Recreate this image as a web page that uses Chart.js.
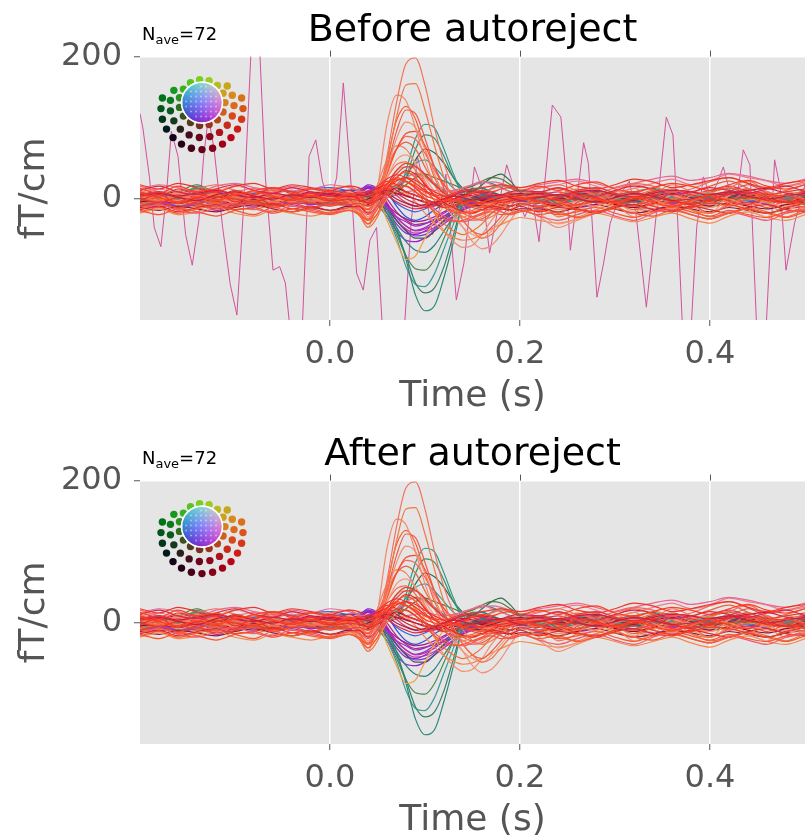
<!DOCTYPE html>
<html><head><meta charset="utf-8">
<script src="https://cdn.jsdelivr.net/npm/chart.js@4.4.1/dist/chart.umd.min.js"></script>
<style>
html,body{margin:0;padding:0;background:#fff;overflow:hidden;width:805px;height:840px;}
.wrap{position:absolute;left:0;width:805px;height:420px;}
canvas{display:block;}
</style></head><body>
<div class="wrap" style="top:0px"><canvas id="c1" width="805" height="420" style="width:805px;height:420px"></canvas></div>
<div class="wrap" style="top:424px"><canvas id="c2" width="805" height="420" style="width:805px;height:420px"></canvas></div>
<script>
// ---------------- DATA ----------------
const panelTitles = ['Before autoreject', 'After autoreject'];
const nAve = 72;
const xTickValues = [0, 0.2, 0.4];
const yTickValues = [0, 200];

// time axis (s) shared by the good channels
const times = [-0.2,-0.18,-0.16,-0.14,-0.12,-0.1,-0.08,-0.06,-0.04,-0.02,0,0.02,
  0.03,0.04,0.05,0.06,0.07,0.08,0.09,0.1,0.11,0.12,0.13,0.14,0.15,0.16,0.17,0.18,0.19,0.2,
  0.22,0.24,0.26,0.28,0.3,0.32,0.34,0.36,0.38,0.4,0.42,0.44,0.46,0.48,0.5];

// gradiometer channels (fT/cm)
const ch01 = [5,-3,2,6,-2,3,-4,2,5,-3,0,4, -10,-30,-5,60,135,190,198,160,100,50,15,-10,-25,-30,-25,-15,-5,0, 5,-8,10,15,-5,-10,5,20,10,-5,15,25,10,-5,8];
const ch02 = [-8,-2,4,-3,5,-2,3,-6,-2,4,-5,2, -15,-35,-5,50,115,160,162,125,75,30,-5,-30,-45,-55,-50,-35,-20,-8, -5,-25,-15,5,-10,-20,10,5,-15,-20,-5,10,-5,-20,-10];
const ch03 = [10,4,-2,8,2,-5,6,0,-4,6,2,-3, -20,-40,15,105,146,138,100,55,20,0,-15,-25,-30,-25,-15,-5,0,5, 10,-5,-15,-10,5,15,0,-10,5,10,-5,-15,0,10,5];
const ch04 = [-3,6,-5,2,-8,4,-2,7,-3,-6,3,-4, -8,-20,5,45,95,125,120,85,45,15,-10,-30,-45,-50,-40,-25,-10,0, -10,-20,-5,8,-3,-15,-5,10,-5,-20,-8,5,10,-5,-12];
const ch05 = [12,5,8,-2,3,10,5,-3,6,2,-4,3, -5,-25,0,40,85,108,100,70,35,5,-20,-40,-60,-70,-65,-50,-30,-15, -25,-40,-30,-20,-10,-25,-15,0,-10,-20,5,15,0,-15,-5];
const ch06 = [-6,-12,-4,-8,0,-10,-5,-12,-6,-2,-8,-5, -10,-15,5,35,70,92,95,75,45,20,5,-5,-10,-12,-8,-3,0,2, -5,-12,-8,0,-6,-10,-2,-8,-12,-4,-10,-5,-12,-3,-8];
const ch07 = [3,-4,6,0,-5,2,-6,4,0,-3,6,2, 0,-10,15,45,70,80,70,45,20,0,-15,-25,-30,-28,-20,-12,-5,0, 8,15,5,-5,10,20,12,-3,8,18,25,15,5,12,20];
const ch08 = [15,8,12,5,10,18,12,4,8,14,6,10, 5,-15,5,30,55,62,50,30,10,-10,-25,-40,-50,-55,-45,-30,-15,-5, -20,-35,-28,-15,-5,-18,-10,5,-5,-12,0,-15,-25,-10,-20];
const ch09 = [-10,-4,2,-6,-2,5,-8,-4,2,-5,-10,-3, 0,5,10,20,35,45,45,35,20,10,0,-8,-12,-15,-10,-5,-2,0, 5,0,-8,-3,5,10,0,-10,-5,5,10,20,8,0,5];
const ch10 = [-2,4,-6,3,6,-3,2,-5,3,0,-4,5, -5,-18,20,55,75,70,50,25,5,-10,-20,-25,-20,-12,-5,0,3,5, 0,5,-5,-10,0,5,-5,-12,-3,5,0,-8,-3,5,0];
const ch11 = [6,0,-5,4,-3,8,2,-4,6,-2,5,0, -12,-28,0,55,110,130,112,70,30,5,-10,-20,-25,-22,-15,-8,-3,0, 5,-3,-10,0,8,3,-8,-2,10,5,-5,0,8,-3,-8];
const ch12 = [2,5,0,18,4,-3,2,5,-2,3,0,5, 5,8,10,5,5,40,85,105,100,70,35,5,-10,-10,-3,5,8,5, 0,-5,5,10,0,-8,5,10,-3,-8,0,5,-5,0,5];
const ch13 = [-2,3,8,15,5,0,-3,4,0,-2,3,0, 0,-5,0,5,10,30,70,90,85,60,30,10,0,5,15,20,15,10, 10,5,0,-5,5,10,15,5,-5,0,10,5,-5,5,10];
const ch14 = [0,-4,5,12,3,-2,0,-4,3,0,-3,2, -3,0,5,8,15,30,55,70,65,50,30,15,10,20,30,35,25,10, 0,-5,5,0,-8,0,10,5,0,-5,5,0,-3,5,0];
const ch15 = [3,0,-3,10,6,0,5,2,-2,0,4,2, 0,2,5,10,20,35,50,55,45,30,15,5,0,-5,-3,0,5,3, -3,5,10,3,-5,0,5,-5,0,8,3,-2,5,0,-5];
const ch16 = [-3,2,-5,5,-2,0,3,-4,0,2,-2,0, 0,-5,-5,-15,-40,-85,-135,-157,-150,-110,-60,-5,15,15,10,5,2,0, -3,5,0,-5,3,5,-2,0,5,-3,0,3,-2,0,3];
const ch17 = [2,-3,0,8,2,-2,0,3,-3,0,2,-2, -2,-3,-8,-20,-45,-80,-118,-132,-125,-95,-50,-5,12,15,10,5,0,-3, 0,-3,5,2,-3,0,3,-3,0,5,-2,0,3,-3,0];
const ch18 = [-4,0,3,6,-2,2,-3,0,3,-2,0,3, 0,-5,-10,-25,-55,-95,-120,-123,-105,-70,-35,0,15,10,5,0,-3,0, 3,0,-4,2,5,-2,0,3,-3,0,4,0,-3,2,0];
const ch19 = [0,3,-2,10,0,-3,2,0,-2,3,0,-3, -3,-5,-10,-25,-50,-80,-98,-100,-85,-55,-25,0,12,8,3,0,-2,0, 2,-3,0,3,-2,0,3,0,-3,2,0,-2,3,0,-2];
const ch20 = [3,0,-3,4,2,-4,0,2,0,-3,2,0, 0,-3,-8,-20,-40,-60,-72,-75,-65,-45,-25,-10,0,5,3,0,-2,0, 0,3,0,-3,0,2,-2,0,3,0,-2,0,2,-2,0];
const ch21 = [-2,2,0,3,-3,0,2,-2,0,3,-2,0, -3,-5,-8,-15,-30,-45,-55,-55,-45,-30,-15,-5,0,3,5,3,0,-2, -3,0,3,0,-2,-4,0,3,0,-2,0,3,0,-2,0];
const ch22 = [-8,-5,-10,-6,-3,-8,-5,-2,-6,-4,-8,-5, 5,15,10,-15,-35,-48,-50,-45,-35,-25,-15,-8,-5,-3,0,-3,-5,-3, -2,0,3,-3,-5,0,3,-2,-5,0,3,0,-3,-2,0];
const ch23 = [-5,0,-3,2,-6,-2,3,-4,0,-3,2,-2, 3,12,15,-5,-25,-38,-45,-42,-35,-25,-15,-10,-5,-2,0,2,0,-2, 0,3,-2,0,3,-3,0,5,2,-2,0,3,5,0,-2];
const ch24 = [-10,-6,-3,-8,-10,-4,-6,-9,-5,-7,-3,-6, 8,18,12,-10,-25,-32,-38,-35,-28,-20,-12,-8,-5,-5,-3,-2,0,-3, -5,-3,0,-5,-2,0,-4,-6,-2,0,-3,-5,-2,0,-4];
const ch25 = [0,4,-2,0,5,2,-3,2,4,0,-2,3, 5,10,8,-8,-20,-28,-32,-30,-25,-18,-12,-5,-3,0,2,0,-3,-2, 2,5,0,-3,2,5,8,3,0,-2,3,6,2,-2,0];
const ch26 = [-3,-8,-5,-2,-6,-10,-4,-7,-3,-8,-5,-4, 5,18,5,-20,-45,-58,-60,-55,-45,-35,-25,-15,-8,-5,-3,-5,-3,0, -3,-6,-2,0,-5,-8,-3,0,-6,-4,0,-3,-6,-2,0];
const ch27 = [-8,-12,-6,-10,-4,-8,-5,0,5,8,10,12, 12,15,15,10,-10,-25,-30,-25,-15,-8,-3,0,2,5,3,0,-2,-3, -5,-2,0,-3,-6,-2,0,-4,-3,0,-2,-5,-3,0,-2];
const ch28 = [6,10,4,8,12,6,2,8,4,10,6,3, 5,8,15,20,12,5,0,-5,-8,-5,0,5,8,10,8,5,3,5, 8,5,10,12,6,3,8,12,10,5,8,12,15,8,5];
const ch29 = [-4,-2,-6,0,-3,-5,-1,-4,-2,-6,-3,-2, -3,0,5,10,15,10,5,0,-5,-8,-5,-3,0,-2,-5,-8,-10,-8, -6,-10,-8,-4,-8,-12,-6,-3,-8,-10,-6,-10,-14,-8,-5];
const ch30 = [0,-5,2,-3,4,0,-4,2,-2,3,-3,0, -2,-5,10,25,20,10,5,0,-5,-3,5,10,8,3,0,-5,-3,0, 3,-2,0,-5,-3,0,2,-3,-6,-2,0,3,-2,-5,-3];
const ch31 = [-12,-8,-14,-10,-6,-12,-15,-8,-10,-13,-8,-11, -20,-40,-25,10,25,30,20,0,-20,-35,-45,-50,-45,-35,-20,-10,-5,0, -10,-20,-25,-15,-8,-12,-18,-10,-15,-25,-20,-12,-18,-25,-15];
const ch32 = [10,14,8,12,6,10,15,8,12,6,10,8, 10,5,0,10,20,30,35,30,20,15,10,15,20,25,20,15,10,8, 15,20,25,18,10,15,22,28,20,25,35,30,25,18,22];
const ch33 = [-15,-10,-18,-12,-8,-15,-12,-6,-14,-10,-16,-12, -10,-20,-10,15,30,40,35,20,5,-5,-12,-18,-20,-15,-10,-12,-15,-10, -18,-12,-15,-20,-12,-8,-15,-18,-10,-15,-20,-12,-8,-15,-18];
const ch34 = [-5,0,-8,-3,2,-5,-2,-6,0,-4,-2,-6, -10,-5,0,-30,-60,-85,-80,-55,-30,-10,0,5,0,-5,-10,-8,-3,0, -5,-10,-3,0,-8,-12,-5,0,-8,-12,-5,0,-5,-10,-3];
const ch35 = [0,3,10,20,8,2,0,3,-2,0,2,0, 0,2,5,8,10,20,30,35,30,25,20,15,18,25,30,28,20,12, 5,0,5,10,8,3,-2,0,5,10,15,8,3,0,5];
const ch36 = [5,0,3,-2,4,0,-3,2,0,5,2,-2, -5,-15,-5,20,40,45,30,5,-20,-45,-60,-68,-65,-50,-30,-15,-5,0, -5,-15,-10,0,-5,-12,-8,5,0,-8,5,10,0,-8,-3];
const ch37 = [8,2,-4,3,-2,6,10,4,-2,5,0,6, 3,-2,8,20,30,25,15,5,0,-3,0,-5,-8,-5,0,3,5,2, -3,-8,5,0,-5,3,-5,-10,-2,5,-3,-8,3,5,-2];
const ch38 = [-5,3,8,2,-4,-8,0,5,-3,-6,5,0, 2,5,12,15,5,-5,-10,-12,-10,-5,0,3,5,8,6,3,0,-3, 5,10,3,-5,0,8,-3,-5,5,12,18,10,0,5,10];
const ch39 = [-10,-4,-12,-6,-14,-8,-3,-10,-6,-12,-4,-8, -6,-10,-2,10,20,18,10,0,-8,-12,-10,-6,-3,-8,-12,-15,-10,-6, -12,-6,-14,-18,-10,-4,-10,-16,-12,-6,-8,-14,-20,-12,-6];
const ch40 = [4,8,2,-2,6,10,4,0,6,2,8,4, 6,3,8,12,8,0,-6,-10,-6,0,4,2,-2,0,4,6,2,-2, 2,6,0,-4,2,8,4,-2,0,6,10,4,0,4,8];
const ch41 = [15,8,18,10,14,6,12,16,8,14,10,6, 8,4,12,22,28,25,18,10,4,0,-3,2,8,12,10,14,16,12, 18,12,20,24,14,10,16,22,18,12,20,26,18,14,20];
const ch42 = [-18,-12,-20,-14,-10,-16,-22,-12,-18,-14,-20,-16, -22,-35,-20,5,15,18,10,-5,-18,-28,-32,-30,-25,-20,-18,-22,-20,-16, -22,-18,-26,-20,-14,-20,-24,-16,-22,-28,-20,-14,-20,-26,-18];
const ch43 = [12,18,10,6,14,20,12,8,16,10,4,12, 8,10,14,6,-4,-10,-14,-12,-6,0,6,10,12,8,4,6,10,12, 10,16,8,4,12,18,14,6,10,16,12,8,14,18,10];
const ch44 = [-14,-8,-16,-20,-12,-6,-14,-18,-10,-16,-20,-12, -14,-22,-10,8,20,24,16,0,-14,-24,-30,-32,-28,-20,-14,-18,-22,-16, -24,-30,-22,-16,-24,-30,-20,-14,-22,-28,-18,-24,-30,-20,-16];
const ch45 = [4,-6,10,-2,8,-8,4,12,-4,6,-10,2, -4,-14,6,30,48,52,40,22,6,-6,-14,-18,-16,-10,-6,-2,2,4, -4,6,14,4,-6,2,12,6,-4,8,16,6,-4,4,12];
const ch46 = [8,2,12,6,0,10,4,-2,8,14,6,0, 4,6,10,8,0,-6,-10,-8,-4,0,4,6,4,0,-2,2,6,8, 4,0,6,10,4,-2,4,8,2,-4,2,6,0,-4,2];
const ch47 = [-12,-6,-14,-8,-16,-10,-4,-12,-8,-14,-6,-10, 0,8,6,-12,-30,-42,-48,-46,-40,-32,-24,-16,-10,-6,-4,-8,-10,-8, -10,-6,-12,-8,-4,-10,-14,-8,-4,-10,-6,-2,-8,-12,-6];
const ch48 = [6,10,4,8,12,6,2,8,12,6,10,8, 10,20,14,-6,-26,-38,-44,-40,-32,-24,-16,-8,-2,2,0,-2,2,4, 6,2,8,12,6,0,4,10,6,2,8,4,0,6,10];
const ch49 = [-6,-2,-8,-4,0,-6,-10,-4,0,2,6,8, 10,16,12,-8,-30,-44,-52,-50,-42,-30,-20,-12,-6,-2,0,-2,-4,-2, -4,0,4,-2,-6,-2,2,-4,-6,-2,2,0,-4,-2,2];
const ch50 = [2,-4,6,0,-6,4,-2,-8,2,6,0,-4, 2,10,16,0,-18,-30,-36,-34,-30,-26,-20,-14,-8,-4,-2,0,-2,-4, -2,4,0,-4,2,6,0,-6,-2,4,8,2,-4,0,4];
const ch51 = [20,14,22,16,10,18,22,14,20,16,12,18, 16,10,18,28,34,30,22,12,6,4,8,12,14,16,18,20,18,16, 22,26,18,14,20,28,24,16,20,26,30,22,16,22,26];
const ch52 = [-20,-14,-22,-18,-12,-20,-24,-16,-20,-24,-18,-14, -16,-28,-22,0,10,8,-4,-20,-34,-46,-54,-58,-56,-50,-42,-36,-30,-26, -30,-34,-28,-20,-26,-32,-26,-20,-28,-34,-24,-18,-26,-30,-22];
const ch53 = [18,10,6,14,20,12,4,10,16,8,14,18, 10,-4,10,40,70,88,84,64,40,20,8,2,4,10,14,18,16,12, 16,20,12,8,16,22,18,10,14,24,30,22,14,18,24];
const ch54 = [-2,6,-6,2,10,-4,4,-8,0,8,-2,4, 0,-6,4,16,26,30,26,18,10,4,0,-2,-4,-6,-4,-2,0,2, -4,2,8,2,-6,0,6,-2,-8,0,6,10,2,-4,0];
const ch55 = [14,20,16,10,18,22,16,12,18,14,20,16, 12,8,4,2,6,10,12,14,12,10,12,16,20,22,24,22,18,16, 20,24,28,22,16,22,28,32,26,30,36,32,26,22,28];
const ch56 = [-12,-16,-10,-14,-18,-12,-8,-14,-18,-12,-16,-10, -12,-8,-2,6,8,4,0,-4,-8,-10,-8,-6,-8,-10,-12,-14,-16,-14, -14,-18,-12,-8,-14,-20,-16,-10,-14,-18,-12,-16,-20,-14,-10];
const ch57 = [4,8,2,6,10,4,8,12,10,14,16,12, 14,16,14,6,-6,-14,-18,-14,-8,-4,0,2,4,6,4,2,0,2, 0,4,2,-2,0,4,2,-2,0,4,6,2,0,2,4];
const ch58 = [-6,-2,4,14,6,-2,-6,-2,2,-4,-6,-2, -4,-2,0,6,18,30,36,32,22,12,10,14,20,24,22,16,10,4, 2,-4,0,6,2,-4,0,4,-2,-6,0,4,-2,2,6];
const ch59 = [-16,-22,-14,-18,-24,-16,-12,-20,-14,-18,-22,-16, -20,-30,-14,12,30,38,30,14,-2,-12,-18,-20,-18,-16,-14,-18,-22,-18, -16,-22,-18,-12,-20,-26,-18,-12,-18,-24,-16,-22,-26,-18,-14];
const ch60 = [10,4,14,8,2,12,6,16,10,4,12,8, 6,-6,0,20,40,50,46,34,20,8,0,-6,-8,-4,0,4,8,6, 10,4,12,16,8,2,10,14,6,0,8,14,6,10,14];

const channelValues = [ch37,ch39,ch40,ch41,ch42,ch43,ch44,ch51,ch54,ch59,ch60,ch30,ch28,ch33,
  ch01,ch02,ch03,ch04,ch05,ch06,ch07,ch08,ch09,ch10,ch11,ch45,ch53,ch52,
  ch29,ch46,ch56,ch38,ch55,ch31,ch32,ch36,ch34,
  ch12,ch13,ch14,ch15,ch16,ch17,ch18,ch19,ch20,ch21,ch35,ch58,
  ch22,ch23,ch24,ch25,ch26,ch47,ch48,ch49,ch50,ch27,ch57];
const channelColors = ['#ff4020','#e8402a','#c8203c','#ff3c1e','#f5582e','#d8284a','#f05870','#ee3428','#f22e2e','#ff5028','#e04030','#f03020','#d01840','#e02828',
  '#f4715f','#f07848','#f5866a','#ee5a4a','#f58e74','#ff4a26','#e8623c','#f39c7c','#d84848','#f08060','#ff5a30','#ff6a3a','#f46a5c','#f6864a',
  '#8a1030','#a81838','#901838','#e0306a','#e86890','#f07030','#f07a90','#f0906a','#f0a040',
  '#2a9a8a','#3a906a','#2e6e50','#3aa0a0','#2a8a7a','#3a7f66','#3a9a9a','#4a8a50','#2a8080','#405a5a','#5a7a30','#2a8f8f',
  '#8a2ad0','#c028b0','#9a30c0','#9a1a8a','#a020d0','#c030a8','#8c28c8','#7a30d8','#b02890','#3050d0','#3a60e0'];

// bad (noisy) channel, only before autoreject
const badTimes = [-0.2,-0.197,-0.19,-0.185,-0.178,-0.172,-0.167,-0.16,-0.152,-0.145,
  -0.138,-0.133,-0.128,-0.122,-0.113,-0.105,-0.098,-0.09,-0.082,-0.075,
  -0.068,-0.06,-0.053,-0.047,-0.04,-0.03,-0.022,-0.015,-0.008,0,
  0.007,0.014,0.021,0.028,0.035,0.042,0.049,0.056,0.064,0.077,
  0.085,0.092,0.1,0.108,0.115,0.122,0.133,0.141,0.152,0.16,
  0.168,0.176,0.186,0.195,0.205,0.213,0.22,0.234,0.243,0.248,
  0.253,0.26,0.267,0.272,0.281,0.288,0.295,0.305,0.315,0.322,
  0.333,0.342,0.354,0.361,0.366,0.372,0.379,0.386,0.393,0.4,
  0.407,0.414,0.421,0.428,0.435,0.442,0.45,0.458,0.468,0.474,
  0.48,0.489,0.5];
const badValues = [120,100,30,-40,-67,10,95,60,-50,-93,
  -30,60,115,70,-40,-120,-163,10,240,240,
  30,-100,-95,-118,-210,-210,60,83,25,-5,
  30,163,45,-104,-128,-58,-40,-200,-210,-210,
  -40,60,15,-50,-15,35,-142,-90,45,15,
  -76,-20,48,10,-25,0,-60,132,115,41,
  -72,0,79,50,-138,-90,-34,5,25,-20,
  -152,-40,115,90,-30,-210,-210,-40,31,5,
  20,45,10,-5,69,48,-210,-210,55,15,
  -100,-34,20];

// ---------------- DRAWING ----------------
const FONT = '"DejaVu Sans", "Liberation Sans", sans-serif';

function rgbStr(r,g,b){
  const c = v => Math.max(0, Math.min(255, Math.round(v*255)));
  return 'rgb(' + c(r) + ',' + c(g) + ',' + c(b) + ')';
}

function drawSensorLegend(ctx, cx, cy){
  ctx.save();
  const rings = [{r:41, oy:6, n:24, minSin:-0.5, dark:0.8},{r:32, oy:3, n:19, minSin:-0.7, dark:0.9},{r:23, oy:0, n:15, minSin:-2, dark:1}];
  rings.forEach(ring => {
    for(let k=0;k<ring.n;k++){
      const a = (k/ring.n)*Math.PI*2;
      if(Math.sin(a) < ring.minSin) continue;
      const dx = ring.r*Math.cos(a), dy = ring.r*Math.sin(a) + ring.oy;
      const x = Math.max(-1, Math.min(1, dx/38)), y = Math.max(-1, Math.min(1, dy/40));
      const f = ring.dark;
      ctx.fillStyle = rgbStr((0.5+0.55*x)*f, (0.5-0.55*y)*f, 0.12*f);
      ctx.beginPath(); ctx.arc(cx+dx, cy+dy, 3.7, 0, Math.PI*2); ctx.fill();
    }
  });
  const R = 20;
  for(let dy=-R; dy<=R; dy++){
    for(let dx=-R; dx<=R; dx++){
      const d = Math.hypot(dx,dy); if(d>R) continue;
      const x = dx/26, y = dy/26;
      ctx.fillStyle = rgbStr(0.48+0.5*x, 0.45-0.5*y, 1-0.2*d/R);
      ctx.fillRect(cx+dx-0.5, cy+dy-0.5, 1.2, 1.2);
    }
  }
  ctx.fillStyle = 'rgba(255,255,255,0.45)';
  for(let dy=-16; dy<=16; dy+=5){
    for(let dx=-16; dx<=16; dx+=5){
      if(Math.hypot(dx,dy) > 17) continue;
      ctx.beginPath(); ctx.arc(cx+dx, cy+dy, 1, 0, Math.PI*2); ctx.fill();
    }
  }
  ctx.strokeStyle = '#ffffff'; ctx.lineWidth = 1.6;
  ctx.beginPath(); ctx.arc(cx, cy, R+0.5, 0, Math.PI*2); ctx.stroke();
  ctx.restore();
}

const decor = {
  id: 'decor',
  beforeDraw(chart){
    const {ctx, chartArea:a} = chart;
    ctx.save(); ctx.fillStyle = '#e5e5e5';
    ctx.fillRect(a.left, a.top, a.right - a.left, a.bottom - a.top);
    ctx.restore();
  },
  afterDraw(chart){
    const {ctx, chartArea:a} = chart;
    const xs = chart.scales.x;
    ctx.save();
    ctx.strokeStyle = '#555'; ctx.lineWidth = 1;
    xTickValues.forEach(v => {
      const px = Math.round(xs.getPixelForValue(v)) + 0.5;
      ctx.beginPath(); ctx.moveTo(px, a.top - 6); ctx.lineTo(px, a.top); ctx.stroke();
    });
    ctx.fillStyle = '#000'; ctx.textBaseline = 'alphabetic'; ctx.textAlign = 'left';
    let x0 = a.left + 2;
    ctx.font = '18px ' + FONT; ctx.fillText('N', x0, 40); x0 += ctx.measureText('N').width;
    ctx.font = '13px ' + FONT; ctx.fillText('ave', x0, 44); x0 += ctx.measureText('ave').width;
    ctx.font = '18px ' + FONT; ctx.fillText('=' + nAve, x0, 40);
    ctx.restore();
    drawSensorLegend(ctx, a.left + 62, a.top + 46);
  }
};

function buildConfig(titleText, withBad){
  const datasets = channelValues.map((vals, i) => ({
    data: times.map((t, j) => ({x: t, y: vals[j]})),
    borderColor: channelColors[i], borderWidth: 1.2, pointRadius: 0, fill: false,
    cubicInterpolationMode: 'monotone'
  }));
  if(withBad){
    datasets.push({
      data: badTimes.map((t, j) => ({x: t, y: badValues[j]})),
      borderColor: '#d2509c', borderWidth: 1, pointRadius: 0, fill: false, tension: 0
    });
  }
  const gridOpts = {color: '#ffffff', lineWidth: 1.5, tickColor: '#555', tickLength: 6, tickWidth: 1};
  return {
    type: 'line',
    data: {datasets},
    options: {
      responsive: false, animation: false, devicePixelRatio: 1,
      layout: {padding: {left: 0, right: 0, top: 0, bottom: 0}},
      plugins: {
        legend: {display: false}, tooltip: {enabled: false},
        title: {display: true, text: titleText, fullSize: false, color: '#000',
          font: {family: FONT, size: 38, weight: 'normal'}, padding: {top: 8, bottom: 3}}
      },
      scales: {
        x: {
          type: 'linear', min: -0.2, max: 0.5,
          afterBuildTicks: s => { s.ticks = xTickValues.map(v => ({value: v})); },
          afterFit: s => { s.height = 100; },
          grid: gridOpts, border: {display: false},
          ticks: {color: '#555', font: {family: FONT, size: 32}, padding: 9, maxRotation: 0,
            callback: v => Number(v).toFixed(1)},
          title: {display: true, text: 'Time (s)', color: '#555', font: {family: FONT, size: 36},
            padding: {top: 0, bottom: 2}}
        },
        y: {
          type: 'linear', min: -170, max: 200,
          afterBuildTicks: s => { s.ticks = yTickValues.map(v => ({value: v})); },
          afterFit: s => { s.width = 140; },
          grid: gridOpts, border: {display: false},
          ticks: {color: '#555', font: {family: FONT, size: 32}, padding: 12, callback: v => String(v)},
          title: {display: true, text: 'fT/cm', color: '#555', font: {family: FONT, size: 36},
            padding: {top: 13, bottom: 0}}
        }
      }
    },
    plugins: [decor]
  };
}

new Chart(document.getElementById('c1'), buildConfig(panelTitles[0], true));
new Chart(document.getElementById('c2'), buildConfig(panelTitles[1], false));
</script>
</body></html>
